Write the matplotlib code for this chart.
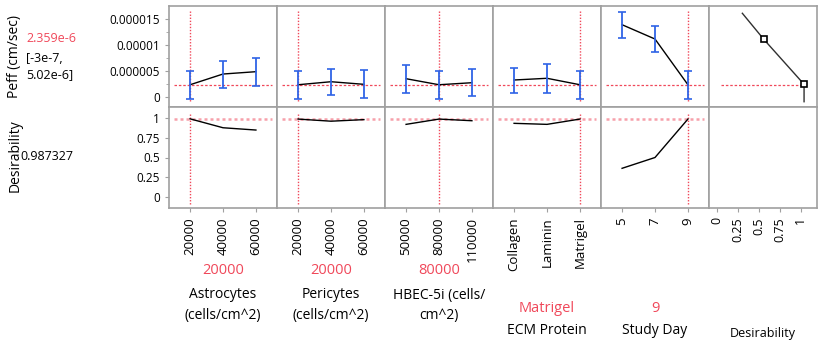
import numpy as np
import matplotlib
matplotlib.use('Agg')
import matplotlib.pyplot as plt

plt.rcParams['font.family'] = ['Open Sans', 'DejaVu Sans']

# current settings / prediction
pred = 2.359e-6
ci_text = ['[-3e-7,', '5.02e-6]']
desir_now = 0.987327

# factors
factor_names = ['Astrocytes\n(cells/cm^2)', 'Pericytes\n(cells/cm^2)', 'HBEC-5i (cells/\ncm^2)',
                'ECM Protein', 'Study Day']
current_vals = ['20000', '20000', '80000', 'Matrigel', '9']
x_levels = [[20000, 40000, 60000], [20000, 40000, 60000], [50000, 80000, 110000],
            [0, 1, 2], [5, 7, 9]]
x_ticklabels = [['20000', '40000', '60000'], ['20000', '40000', '60000'],
                ['50000', '80000', '110000'], ['Collagen', 'Laminin', 'Matrigel'], ['5', '7', '9']]
current_idx = [0, 0, 1, 2, 2]

# Peff profile (mean, lower, upper)
peff_mean = [[2.36e-6, 4.42e-6, 4.87e-6], [2.36e-6, 2.94e-6, 2.44e-6], [3.52e-6, 2.36e-6, 2.75e-6],
             [3.27e-6, 3.60e-6, 2.36e-6], [13.9e-6, 11.15e-6, 2.36e-6]]
peff_lo = [[-0.3e-6, 1.67e-6, 2.12e-6], [-0.3e-6, 0.33e-6, -0.25e-6], [0.71e-6, -0.3e-6, 0.13e-6],
           [0.71e-6, 0.71e-6, -0.3e-6], [11.3e-6, 8.6e-6, -0.3e-6]]
peff_hi = [[5.02e-6, 6.87e-6, 7.44e-6], [5.02e-6, 5.33e-6, 5.13e-6], [6.09e-6, 5.02e-6, 5.33e-6],
           [5.63e-6, 6.28e-6, 5.02e-6], [16.4e-6, 13.7e-6, 5.02e-6]]

# desirability profile
desir = [[0.99, 0.877, 0.848], [0.987, 0.96, 0.98], [0.92, 0.987, 0.966],
         [0.933, 0.92, 0.987], [0.363, 0.50, 0.987]]

# desirability function for Peff
dfun_x = [0.305, 0.56, 1.04, 1.04]
dfun_y = [16.1e-6, 11.1e-6, 2.44e-6, -0.9e-6]
dfun_handles_x = [0.56, 1.04]
dfun_handles_y = [11.1e-6, 2.44e-6]

W, H = 820, 343
fig = plt.figure(figsize=(W / 100, H / 100), dpi=100)

def px_axes(x0, y0, x1, y1):
    return fig.add_axes([x0 / W, 1 - y1 / H, (x1 - x0) / W, (y1 - y0) / H])

edges = [169, 277, 385, 493, 601, 709, 817]
top_y = (6, 107)
bot_y = (107, 208)
frame_col = '#a0a0a0'
red = '#f0485a'
blue = '#2f63e6'

def style(ax):
    for s in ax.spines.values():
        s.set_color(frame_col)
        s.set_linewidth(1.2)
    ax.tick_params(colors=frame_col, labelcolor='black', labelsize=8.5, length=3)

for i in range(6):
    axt = px_axes(edges[i], top_y[0], edges[i + 1], top_y[1])
    axb = px_axes(edges[i], bot_y[0], edges[i + 1], bot_y[1])
    for ax in (axt, axb):
        style(ax)
    axt.set_ylim(-1.92e-6, 1.75e-5)
    axb.set_ylim(-0.14, 1.14)
    if i < 5:
        xs = x_levels[i]
        rng = xs[-1] - xs[0]
        pad = rng * 0.32
        for ax in (axt, axb):
            ax.set_xlim(xs[0] - pad, xs[-1] + pad)
        m = np.array(peff_mean[i]); lo = np.array(peff_lo[i]); hi = np.array(peff_hi[i])
        axt.plot(xs, m, color='black', lw=1.0, zorder=3)
        axt.errorbar(xs, m, yerr=[m - lo, hi - m], fmt='none', ecolor=blue, elinewidth=1.3,
                     capsize=3, capthick=1.2, zorder=4)
        axt.axhline(pred, xmin=0.05, xmax=0.95, color=red, lw=0.9, ls=(0, (2, 1.5)), zorder=2)
        axb.plot(xs, desir[i], color='black', lw=1.0, zorder=3)
        axb.axhline(desir_now, xmin=0.05, xmax=0.95, color='#f7a0aa', lw=1.8, ls=(0, (1.2, 1.2)), zorder=2)
        xc = xs[current_idx[i]]
        axt.axvline(xc, ymin=0.06, ymax=0.95, color=red, lw=1.0, ls=(0, (1, 1.2)), zorder=2)
        axb.axvline(xc, ymin=0.04, ymax=0.94, color=red, lw=1.0, ls=(0, (1, 1.2)), zorder=2)
        axb.set_xticks(xs)
        axb.set_xticklabels(x_ticklabels[i], rotation=90, fontsize=9.5)
    else:
        for ax in (axt, axb):
            ax.set_xlim(-0.092, 1.194)
        axt.plot(dfun_x, dfun_y, color='#303030', lw=1.0, zorder=3)
        axt.plot(dfun_handles_x, dfun_handles_y, ls='none', marker='s', ms=5, mfc='white',
                 mec='black', mew=1.2, zorder=4)
        axt.plot([0.05, 1.04], [pred, pred], color=red, lw=0.9, ls=(0, (2, 1.5)), zorder=2)
        axb.set_xticks([0, 0.25, 0.5, 0.75, 1])
        axb.set_xticklabels(['0', '0.25', '0.5', '0.75', '1'], rotation=90, fontsize=9)
    axt.set_xticks([])
    if i == 0:
        axt.set_yticks([0, 0.000005, 0.00001, 0.000015])
        axt.set_yticklabels(['0', '0.000005', '0.00001', '0.000015'])
        axt.set_yticks([2.5e-6, 7.5e-6, 12.5e-6], minor=True)
        axt.tick_params(which='minor', colors=frame_col, length=2)
        axb.set_yticks([0, 0.25, 0.5, 0.75, 1])
        axb.set_yticklabels(['0', '0.25', '0.5', '0.75', '1'])
    else:
        axt.set_yticks([])
        axb.set_yticks([])

# left side texts
def ftext(x, y, s, **kw):
    fig.text(x / W, 1 - y / H, s, **kw)

ftext(15, 56, 'Peff (cm/sec)', rotation=90, ha='center', va='center', fontsize=10)
ftext(15, 156, 'Desirability', rotation=90, ha='center', va='center', fontsize=10)
ftext(26, 39, '2.359e-6', color=red, ha='left', va='center', fontsize=9)
ftext(26, 58, ci_text[0], ha='left', va='center', fontsize=9)
ftext(26, 75, ci_text[1], ha='left', va='center', fontsize=9)
ftext(20, 157, '%.6f' % desir_now, ha='left', va='center', fontsize=9)

# factor labels under the panels
for i in range(5):
    xc = (edges[i] + edges[i + 1]) / 2
    lines = factor_names[i].split('\n')
    if len(lines) == 2:
        ftext(xc, 271, current_vals[i], color=red, ha='center', va='center', fontsize=10.5)
        ftext(xc, 295, lines[0], ha='center', va='center', fontsize=10)
        ftext(xc, 316, lines[1], ha='center', va='center', fontsize=10)
    else:
        ftext(xc, 308, current_vals[i], color=red, ha='center', va='center', fontsize=10.5)
        ftext(xc, 330, lines[0], ha='center', va='center', fontsize=10)
ftext((edges[5] + edges[6]) / 2, 333, 'Desirability', ha='center', va='center', fontsize=9)

fig.savefig('out.png', dpi=100)
